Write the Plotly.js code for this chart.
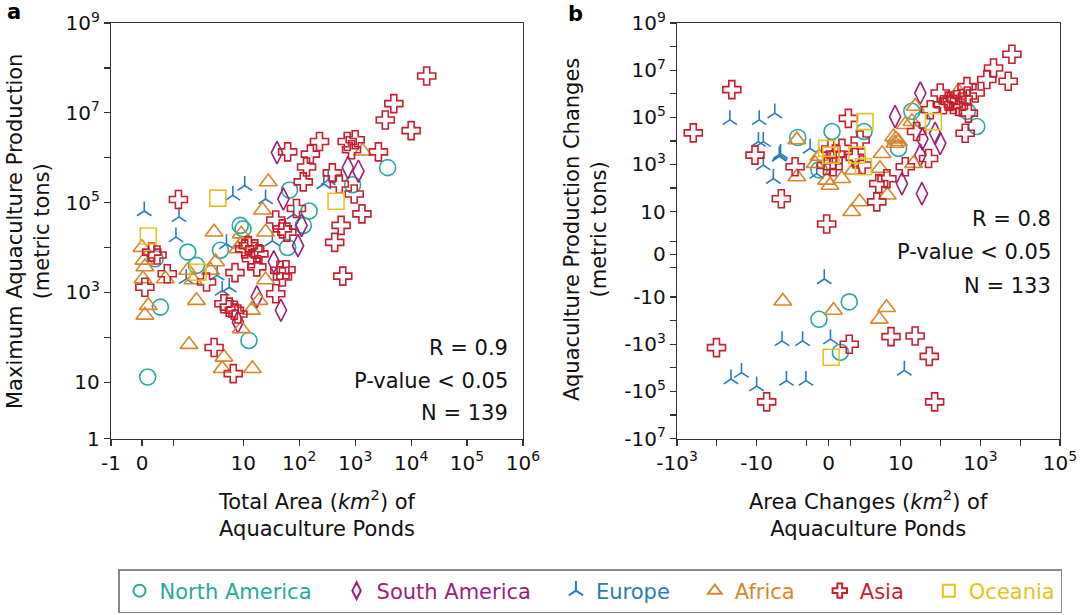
<!DOCTYPE html>
<html><head><meta charset="utf-8">
<script src="https://cdn.plot.ly/plotly-3.0.1.min.js"></script>
<style>html,body{margin:0;padding:0;background:#fff}#chart{width:1080px;height:615px}</style>
</head><body><div id="chart"></div>
<script>
// ---------- Panel a: total pond area (km2) vs maximum production (t) ----------
const naAreaA = [3800, 67, 150, 8.8, 9.9, 118, 62, 1.47, 3.9, 1.75, 0.42, 0.59, 12.6, 0.18, 900];
const naProdA = [6.0e5, 1.9e5, 6.5e4, 3.1e4, 2.6e4, 3.1e4, 1.0e4, 7900, 8700, 4000, 5600, 470, 85, 13, 2.5e5];
const saAreaA = [740, 1140, 40, 52, 110, 95, 35, 17.4, 47, 8.0];
const saProdA = [6.0e5, 5.0e5, 1.3e6, 1.2e5, 3.1e4, 1.1e4, 4800, 800, 400, 220];
const euAreaA = [275, 330, 10.6, 6.5, 0.07, 1.19, 1.09, 5.0, 25, 3.4, 1.42, 5.6, 33, 80, 4.2];
const euProdA = [2.6e5, 3.2e5, 2.4e5, 1.45e5, 6.5e4, 4.8e4, 1.7e4, 1.2e4, 1.2e5, 2400, 2000, 1300, 1.4e4, 5.5e4, 1100];
const afAreaA = [1350, 28, 0, 3.0, 9.2, 22, 25, 8.0, 9.2, 3.2, 2.6, 1.47, 1.64, 0.75, 0.09, 0.03, 0.09, 0.2, 1.75, 9.2, 14, 19, 25, 1.51, 4.5, 4.2, 14.5, 0.06];
const afProdA = [1.4e6, 2.9e5, 1.0e4, 2.2e4, 2.0e4, 6.8e4, 2.2e4, 9300, 1.2e4, 4800, 3100, 3100, 1900, 2000, 3700, 2000, 310, 510, 660, 155, 400, 660, 1900, 69, 36, 20, 20, 5200];
const asAreaA = [1.9e4, 4900, 3450, 1.0e4, 2600, 1000, 720, 860, 62, 230, 158, 135, 390, 118, 520, 960, 1.17, 1320, 560, 430, 600, 89, 38, 50, 60, 12.3, 16, 19, 10.6, 17.4, 45, 50, 58, 7.1, 2.2, 0.81, 0.48, 0.31, 0.09, 4.5, 5.6, 6.9, 8.0, 38, 3.0, 6.6, 14];
const asProdA = [6.6e7, 1.6e7, 6.9e6, 4.0e6, 1.35e6, 2.5e6, 2.3e6, 1.5e6, 1.35e6, 2.3e6, 1.2e6, 6.2e5, 4.6e5, 2.9e5, 2.6e5, 1.55e5, 1.17e5, 5.6e4, 3.1e4, 1.3e4, 2300, 7.4e4, 4.1e4, 2.6e4, 2.2e4, 1.1e4, 9300, 7200, 9300, 3700, 3100, 2200, 3200, 2750, 1700, 2600, 6800, 7900, 1300, 560, 470, 400, 330, 930, 59, 15.5, 5600];
const ocAreaA = [455, 3.5, 0.2, 1.8];
const ocProdA = [1.07e5, 1.26e5, 1.8e4, 2800];

// ---------- Panel b: area change (km2) vs production change (t) ----------
const naAreaB = [-1.4, 0.15, 1.6, -0.44, 8.8, 19, 34, 470, 810, 0.93, -0.44, 0.53];
const naProdB = [1.4e4, 2.5e4, 2.5e4, 590, 4800, 1.8e5, 7.8e4, 1.8e5, 4.1e4, -16, -88, -2200];
const saAreaB = [31, 7.2, 73, 98, 31, 10.7, 34, 35];
const saProdB = [1.07e6, 1.07e5, 2.1e4, 7900, 2500, 155, 58, 1.2e4];
const euAreaB = [-47, -8.6, -3.5, -9, -6.8, -2.6, -2.5, -2.7, -6.8, -3.8, -0.84, -0.54, -0.2, -2.3, -1.18, 0.08, -44, -24, -10, -1.91, -1.03, 12.3];
const euProdB = [7.8e4, 7.8e4, 1.5e5, 9300, 9300, 2500, 2900, 2200, 940, 250, 4800, 410, -1.88, -720, -720, -610, -3e4, -1.6e4, -6e4, -3.5e4, -3.5e4, -1.3e4];
const afAreaB = [-1.44, -1.44, -0.61, -0.44, -0.09, 0.59, 0.06, 1.12, 1.04, 1.40, 4.6, 3.4, 3.0, 21, 6.6, 8.8, 7.2, 7.5, 23, 19, 13, 280, -2.2, 0.22, 2.9, 4.4];
const afProdB = [1.1e4, 300, 1100, 2200, 215, 250, 130, 580, 10, 26, 50, 2900, 680, 1100, 1.5e4, 9300, 7900, 1.2e4, 2.9e5, 6.6e4, 4.9e4, 1.26e6, -15, -37, -88, -28];
const asAreaB = [-390, -42, -11, -1.52, -2.4, -0.09, 0.89, 1.42, 1.51, 0.1, 0.6, 0.3, -0.1, 0.2, 0.2, 2.8, 2.5, 4.5, 13, 50, 25, 55, 98, 174, 257, 118, 282, 460, 740, 500, 415, 2140, 1450, 5000, 6200, 470, 155, 210, 1.2, 0.93, 5.7, 23, 52, -102, -5.6, 71];
const asProdB = [2.2e4, 1.5e6, 2500, 800, 35, 3, 9e4, 1.1e4, 950, 4500, 4800, 2800, 900, 800, 1500, 155, 26, 250, 800, 1800, 2.5e4, 2.1e5, 1.07e6, 4.7e5, 5.6e5, 3.4e5, 2.9e5, 2.0e6, 1.07e6, 1.5e5, 2.1e4, 1.23e7, 4.0e6, 3.4e6, 4.7e7, 8e5, 4.9e5, 3.5e5, 2000, -1000, -480, -450, -3300, -1400, -2.8e5, -2.8e5];
const ocAreaB = [-0.09, 0.1, 1.64, 1.57, 66, 1.27, 0.11];
const ocProdB = [4800, 2500, 6.6e4, 800, 6.6e4, 2500, -3600];

// ---------- tick positions / labels (labelled ticks and unlabelled minor ticks) ----------
const axTickVals = [-1, 0, 10, 1e2, 1e3, 1e4, 1e5, 1e6];
const axTickText = ['-1', '0', '10', '10<sup>2</sup>', '10<sup>3</sup>', '10<sup>4</sup>', '10<sup>5</sup>', '10<sup>6</sup>'];
const axMinorVals = [1];
const ayTickVals = [1, 10, 1e3, 1e5, 1e7, 1e9];
const ayTickText = ['1', '10', '10<sup>3</sup>', '10<sup>5</sup>', '10<sup>7</sup>', '10<sup>9</sup>'];
const ayMinorVals = [1e2, 1e4, 1e6, 1e8];
const bxTickVals = [-1e3, -10, 0, 10, 1e3, 1e5];
const bxTickText = ['-10<sup>3</sup>', '-10', '0', '10', '10<sup>3</sup>', '10<sup>5</sup>'];
const bxMinorVals = [-1e2, -1, 1, 1e2, 1e4];
const byTickVals = [-1e7, -1e5, -1e3, -10, 0, 10, 1e3, 1e5, 1e7, 1e9];
const byTickText = ['-10<sup>7</sup>', '-10<sup>5</sup>', '-10<sup>3</sup>', '-10', '0', '10', '10<sup>3</sup>', '10<sup>5</sup>', '10<sup>7</sup>', '10<sup>9</sup>'];
const byMinorVals = [-1e6, -1e4, -1e2, -1, 1, 1e2, 1e4, 1e6, 1e8];

const regionNames = ['North America', 'South America', 'Europe', 'Africa', 'Asia', 'Oceania'];

// symmetric-log axis transform (linear threshold 2, linscale 1)
const LT = 2, LS = 1 / (1 - 1 / 10);
function symlog(v) {
  const a = Math.abs(v);
  return a <= LT ? (v / LT) * LS : Math.sign(v) * (LS + Math.log10(a / LT));
}
const tr = arr => arr.map(symlog);

const styles = [
  {color: '#27a8a0', symbol: 'circle-open', size: 16},
  {color: '#9a1e80', symbol: 'diamond-tall-open', size: 16},
  {color: '#2b7bba', symbol: 'y-up', size: 12},
  {color: '#d8872a', symbol: 'triangle-up-open', size: 15.5},
  {color: '#c81e2e', symbol: 'cross-open', size: 15},
  {color: '#e6c320', symbol: 'square-open', size: 16}
];
const dataA = [[naAreaA, naProdA], [saAreaA, saProdA], [euAreaA, euProdA], [afAreaA, afProdA], [asAreaA, asProdA], [ocAreaA, ocProdA]];
const dataB = [[naAreaB, naProdB], [saAreaB, saProdB], [euAreaB, euProdB], [afAreaB, afProdB], [asAreaB, asProdB], [ocAreaB, ocProdB]];

const NB = '\u00a0\u00a0\u00a0';
const traces = [];
regionNames.forEach((nm, i) => {
  const s = styles[i];
  const mk = {symbol: s.symbol, size: s.size, color: s.color, line: {color: s.color, width: 1.6}};
  traces.push({
    type: 'scatter', mode: 'markers', xaxis: 'x', yaxis: 'y',
    x: tr(dataA[i][0]), y: tr(dataA[i][1]),
    name: '<span style="color:' + s.color + '">' + nm + '</span>' + (i < 5 ? NB : ''),
    legendgroup: nm, marker: mk, hoverinfo: 'skip'
  });
  traces.push({
    type: 'scatter', mode: 'markers', xaxis: 'x2', yaxis: 'y2',
    x: tr(dataB[i][0]), y: tr(dataB[i][1]),
    name: nm, legendgroup: nm, showlegend: false, marker: mk, hoverinfo: 'skip'
  });
});

const W = 1080, H = 615;
const yDom = [1 - 438.5 / H, 1 - 23 / H];
function axis(dom, rng, vals, text, minorVals, anchor) {
  return {
    domain: dom, range: rng, anchor: anchor,
    showline: true, mirror: true, linecolor: '#333', linewidth: 1.2,
    ticks: 'outside', ticklen: 6, tickwidth: 1.2, tickcolor: '#333',
    tickmode: 'array', tickvals: tr(vals), ticktext: text,
    minor: {tickmode: 'array', tickvals: tr(minorVals), ticks: 'outside', ticklen: 6, tickwidth: 1.2, tickcolor: '#333', showgrid: false},
    showgrid: false, zeroline: false,
    tickfont: {family: 'DejaVu Sans', size: 20, color: '#111'}, fixedrange: true
  };
}
const F = {family: 'DejaVu Sans', size: 21, color: '#111'};
function ann(text, x, y, extra) {
  return Object.assign({text: text, x: x / W, y: 1 - y / H, xref: 'paper', yref: 'paper', showarrow: false, font: F, xanchor: 'center', yanchor: 'middle'}, extra || {});
}

const layout = {
  width: W, height: H, margin: {l: 0, r: 0, t: 0, b: 0},
  paper_bgcolor: '#fff', plot_bgcolor: '#fff',
  font: {family: 'DejaVu Sans', color: '#111'},
  xaxis: axis([111 / W, 523 / W], [symlog(-1), symlog(1e6)], axTickVals, axTickText, axMinorVals, 'y'),
  yaxis: axis(yDom, [symlog(1), symlog(1e9)], ayTickVals, ayTickText, ayMinorVals, 'x'),
  xaxis2: axis([677 / W, 1060 / W], [symlog(-1e3), symlog(1e5)], bxTickVals, bxTickText, bxMinorVals, 'y2'),
  yaxis2: axis(yDom, [symlog(-1e7), symlog(1e9)], byTickVals, byTickText, byMinorVals, 'x2'),
  showlegend: true,
  legend: {
    orientation: 'h', x: 590 / W, xanchor: 'center', y: 1 - 591 / H, yanchor: 'middle',
    bordercolor: '#888', borderwidth: 1.5, bgcolor: '#fff',
    font: {family: 'DejaVu Sans', size: 21}, itemsizing: 'constant', traceorder: 'normal'
  },
  annotations: [
    ann('<b>a</b>', 14, 12, {font: {family: 'DejaVu Sans', size: 21, color: '#000'}}),
    ann('<b>b</b>', 575, 14, {font: {family: 'DejaVu Sans', size: 21, color: '#000'}}),
    ann('Maximum Aquaculture Production<br>(metric tons)', 29, 232, {textangle: -90}),
    ann('Aquaculture Production Changes<br>(metric tons)', 585, 230, {textangle: -90}),
    ann('Total Area (<i>km</i><sup>2</sup>) of<br>Aquaculture Ponds', 317, 513),
    ann('Area Changes (<i>km</i><sup>2</sup>) of<br>Aquaculture Ponds', 868, 513),
    ann('R = 0.9', 510, 348, {xanchor: 'right'}),
    ann('P-value < 0.05', 510, 381, {xanchor: 'right'}),
    ann('N = 139', 510, 413, {xanchor: 'right'}),
    ann('R = 0.8', 1053, 219, {xanchor: 'right'}),
    ann('P-value < 0.05', 1053, 252, {xanchor: 'right'}),
    ann('N = 133', 1053, 286, {xanchor: 'right'})
  ]
};

Plotly.newPlot('chart', traces, layout, {displayModeBar: false, staticPlot: true});
</script>
</body></html>
